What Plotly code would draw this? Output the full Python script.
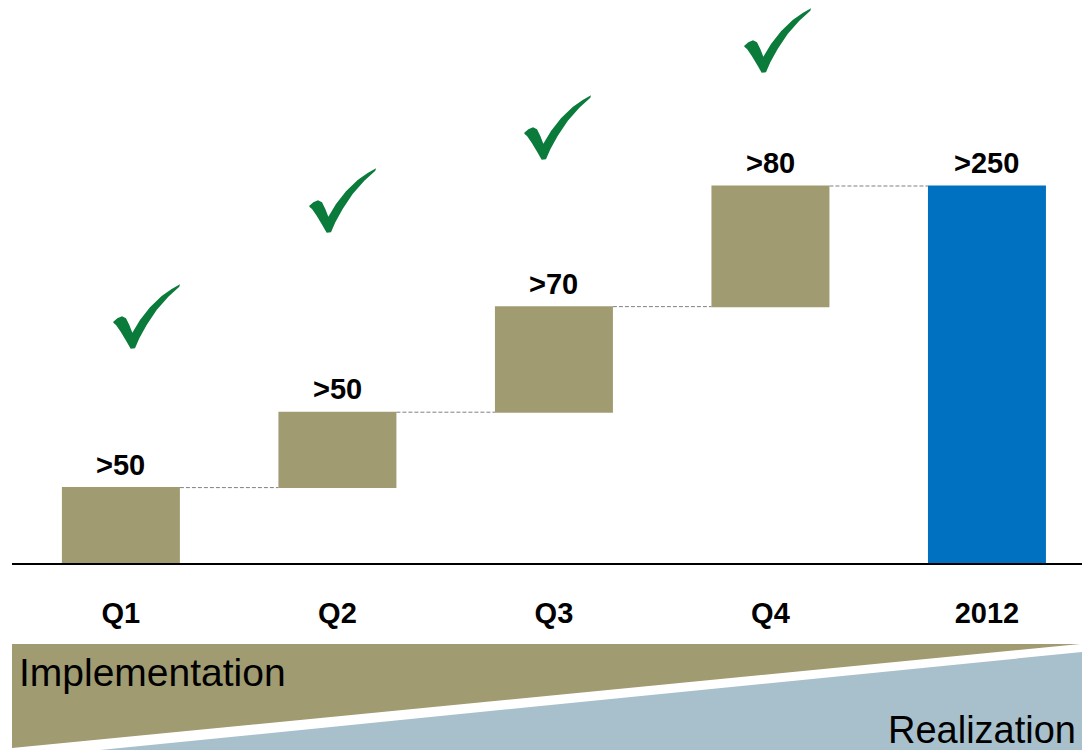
import plotly.graph_objects as go

# ---- data ----
categories = ["Q1", "Q2", "Q3", "Q4", "2012"]
values = [50, 50, 70, 80, 250]
measures = ["relative", "relative", "relative", "relative", "total"]
value_labels = [">50", ">50", ">70", ">80", ">250"]
checked = [True, True, True, True, False]
phase_labels = ["Implementation", "Realization"]

# ---- styling / layout constants ----
W, H = 1082, 750
OLIVE = "#A09B70"
BLUE = "#0070C0"
SKY = "#A7C0CC"
GREEN = "#0B7B3B"
FONT = "Arial, Liberation Sans, sans-serif"


def p(x, y):
    return x / W, 1 - y / H


def path(points):
    pts = [p(x, y) for x, y in points]
    s = "M {:.5f},{:.5f} ".format(*pts[0])
    s += " ".join("L {:.5f},{:.5f}".format(*q) for q in pts[1:])
    return s + " Z"


fig = go.Figure(
    go.Waterfall(
        x=categories,
        y=values,
        measure=measures,
        width=0.545,
        increasing=dict(marker=dict(color=OLIVE)),
        decreasing=dict(marker=dict(color=OLIVE)),
        totals=dict(marker=dict(color=BLUE)),
        connector=dict(mode="between", line=dict(color="#808080", width=1, dash="4px,2px")),
        textinfo="none",
        hoverinfo="skip",
    )
)

# bar-top value labels
tops = []
run = 0
for v, m in zip(values, measures):
    run = v if m == "total" else run + v
    tops.append(run)

annotations = []
for i, (t, lab) in enumerate(zip(tops, value_labels)):
    annotations.append(dict(x=i, y=t, xref="x", yref="y", text=lab, showarrow=False, yanchor="bottom",
                            yshift=5, font=dict(family=FONT, size=29, color="black", weight="bold")))

shapes = []
# phase triangles
shapes.append(dict(type="path", xref="paper", yref="paper", line=dict(width=0), fillcolor=OLIVE,
                   path=path([(12, 644), (1080, 644), (12, 748)]), layer="below"))
shapes.append(dict(type="path", xref="paper", yref="paper", line=dict(width=0), fillcolor=SKY,
                   path=path([(1082, 652), (1082, 752), (80, 752)]), layer="below"))

annotations.append(dict(xref="paper", yref="paper", x=p(17, 0)[0], y=p(0, 672)[1], text=phase_labels[0],
                        showarrow=False, xanchor="left", yanchor="middle",
                        font=dict(family=FONT, size=39, color="black")))
annotations.append(dict(xref="paper", yref="paper", x=p(886, 0)[0], y=p(0, 730)[1], text=phase_labels[1],
                        showarrow=False, xanchor="left", yanchor="middle",
                        font=dict(family=FONT, size=38, color="black")))

# check marks (decoration outline in pixels, placed per category)
check_shape = [(x / 3, y / 3) for x, y in [
    (40, 155), (52, 145), (66, 139), (78, 145), (88, 165), (97, 188), (120, 150), (150, 112),
    (185, 78), (215, 57), (240, 43), (238, 50), (205, 80), (170, 120), (140, 165), (118, 205),
    (105, 235), (92, 236), (80, 215), (62, 185), (48, 165), (40, 158)]]
check_origins = [(100, 270), (296, 154), (511, 81), (731, -6)]
for ok, (ox, oy) in zip(checked, check_origins):
    if ok:
        shapes.append(dict(type="path", xref="paper", yref="paper", line=dict(width=0),
                           fillcolor=GREEN, path=path([(ox + x, oy + y) for x, y in check_shape])))

ymax = 563 / (377 / 250)
fig.update_layout(
    width=W, height=H,
    margin=dict(l=0, r=0, t=0, b=0),
    paper_bgcolor="white", plot_bgcolor="white",
    showlegend=False,
    annotations=annotations,
    shapes=shapes,
    xaxis=dict(domain=[12 / W, 1], range=[-0.503, 4.439], showline=True, linecolor="black",
               linewidth=2, showgrid=False, zeroline=False, ticks="", ticklabelstandoff=23,
               tickfont=dict(family=FONT, size=29, color="black", weight="bold"), fixedrange=True),
    yaxis=dict(domain=[187 / H, 1], range=[0, ymax], visible=False, fixedrange=True),
)

fig.write_html("out.html")
